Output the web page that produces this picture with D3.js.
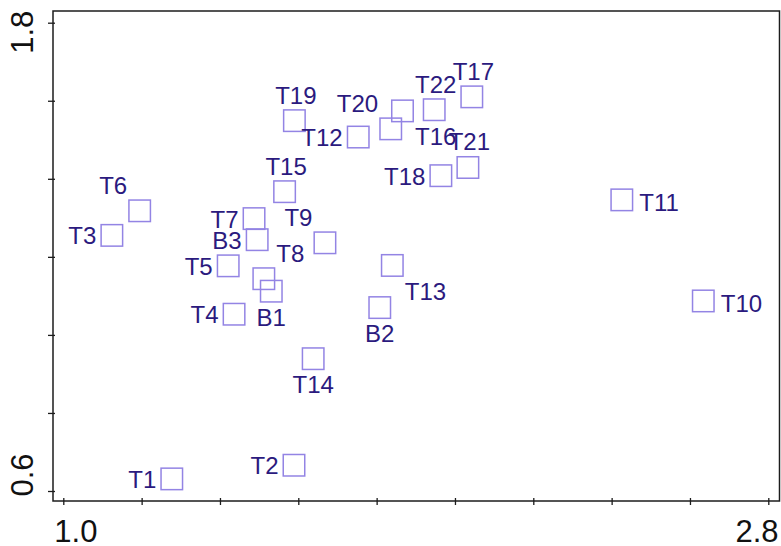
<!DOCTYPE html>
<html>
<head>
<meta charset="utf-8">
<script src="https://cdn.jsdelivr.net/npm/d3@7"></script>
<style>
  body { margin: 0; background: #ffffff; }
  svg { display: block; }
</style>
</head>
<body>
<svg id="chart" width="781" height="546"></svg>
<script>
// Sample codes and their coordinates on the two plotted dimensions
const names   = ["T1", "T2", "T3", "T4", "T5", "T6", "T7", "T8", "T9", "T10", "T11",
                 "T12", "T13", "T14", "T15", "T16", "T17", "T18", "T19", "T20", "T21", "T22",
                 "B1", "B2", "B3"];
const xValues = [1.277, 1.589, 1.124, 1.436, 1.421, 1.195, 1.487, 1.512, 1.668, 2.634, 2.426,
                 1.753, 1.840, 1.638, 1.565, 1.866, 2.043, 1.964, 1.590, 1.836, 2.033, 1.947,
                 1.531, 1.808, 1.495];
const yValues = [0.631, 0.666, 1.255, 1.053, 1.177, 1.318, 1.298, 1.144, 1.236, 1.087, 1.346,
                 1.507, 1.178, 0.939, 1.367, 1.574, 1.610, 1.408, 1.549, 1.528, 1.429, 1.577,
                 1.112, 1.070, 1.244];

// Axis ticks (every 0.2) and their labels (only the ends are labelled)
const xTicks      = [1.0, 1.2, 1.4, 1.6, 1.8, 2.0, 2.2, 2.4, 2.6, 2.8];
const xTickLabels = ["1.0", "", "", "", "", "", "", "", "", "2.8"];
const yTicks      = [0.6, 0.8, 1.0, 1.2, 1.4, 1.6, 1.8];
const yTickLabels = ["0.6", "", "", "", "", "", "1.8"];

// Where each name sits around its marker
const labelSide = {
  T1: "L", T2: "L", T3: "L", T4: "L", T5: "L", T6: "TL", T7: "L", T8: "TR", T9: "TL",
  T10: "R", T11: "R", T12: "L", T13: "BR", T14: "B", T15: "T", T16: "BR", T17: "T",
  T18: "L", T19: "T", T20: "TL", T21: "T", T22: "T", B1: "B", B2: "B", B3: "L"
};

const svg = d3.select("#chart");
const frame = { left: 53, right: 779.5, top: 11, bottom: 501 };

const x = d3.scaleLinear().domain([1.0, 2.8]).range([63.3, 768.3]);
const y = d3.scaleLinear().domain([0.6, 1.8]).range([491, 22.7]);

const axisColor = "#1c1c1c";
const markColor = "#9384e4";
const textColor = "#2b1a7e";
const font = "'Liberation Sans', Arial, sans-serif";

// Plot frame
svg.append("rect")
  .attr("x", frame.left).attr("y", frame.top)
  .attr("width", frame.right - frame.left).attr("height", frame.bottom - frame.top)
  .attr("fill", "none").attr("stroke", axisColor).attr("stroke-width", 1.5);

// Bottom axis
const gx = svg.append("g")
  .attr("transform", `translate(0,${frame.bottom})`)
  .call(d3.axisBottom(x).tickValues(xTicks)
    .tickFormat((d, i) => xTickLabels[i]).tickSizeOuter(0));
gx.select(".domain").remove();
gx.selectAll(".tick line").attr("y1", -3).attr("y2", 4)
  .attr("stroke", axisColor).attr("stroke-width", 1.3);
gx.selectAll(".tick text")
  .attr("font-family", font).attr("font-size", 31).attr("fill", "#111")
  .attr("dy", null).attr("y", 41)
  .attr("text-anchor", (d, i) => i === 0 ? "start" : "end")
  .attr("x", (d, i) => i === 0 ? -9.5 : 9.7);

// Left axis
const gy = svg.append("g")
  .attr("transform", `translate(${frame.left},0)`)
  .call(d3.axisLeft(y).tickValues(yTicks)
    .tickFormat((d, i) => yTickLabels[i]).tickSizeOuter(0));
gy.select(".domain").remove();
gy.selectAll(".tick line").attr("x1", -5).attr("x2", 2)
  .attr("stroke", axisColor).attr("stroke-width", 1.3);
gy.selectAll(".tick text")
  .attr("font-family", font).attr("font-size", 31).attr("fill", "#111")
  .attr("dy", null)
  .attr("transform", "rotate(-90)")
  .attr("y", -20)
  .attr("text-anchor", (d, i) => i === 0 ? "start" : "end")
  .attr("x", (d, i) => i === 0 ? -5 : 12.5);

// Points
const data = names.map((n, i) => ({ name: n, x: xValues[i], y: yValues[i] }));
const side = 21.5, half = side / 2;

svg.append("g").selectAll("rect")
  .data(data).join("rect")
  .attr("x", d => x(d.x) - half)
  .attr("y", d => y(d.y) - half)
  .attr("width", side).attr("height", side)
  .attr("fill", "none")
  .attr("stroke", markColor)
  .attr("stroke-width", 1.5);

// Label offsets relative to the marker centre
const offsets = {
  L:  { dx: -15.5, dy: 9,    anchor: "end" },
  R:  { dx: 17.5,  dy: 11,   anchor: "start" },
  T:  { dx: 1.5,   dy: -17,  anchor: "middle" },
  B:  { dx: 0,     dy: 34.7, anchor: "middle" },
  TL: { dx: -12.5, dy: -17,  anchor: "end" },
  TR: { dx: 12.5,  dy: -17,  anchor: "start" },
  BR: { dx: 12.5,  dy: 34.3, anchor: "start" }
};

svg.append("g").selectAll("text")
  .data(data).join("text")
  .attr("x", d => x(d.x) + offsets[labelSide[d.name]].dx)
  .attr("y", d => y(d.y) + offsets[labelSide[d.name]].dy)
  .attr("text-anchor", d => offsets[labelSide[d.name]].anchor)
  .attr("font-family", font)
  .attr("font-size", 24)
  .attr("fill", textColor)
  .text(d => d.name);
</script>
</body>
</html>
